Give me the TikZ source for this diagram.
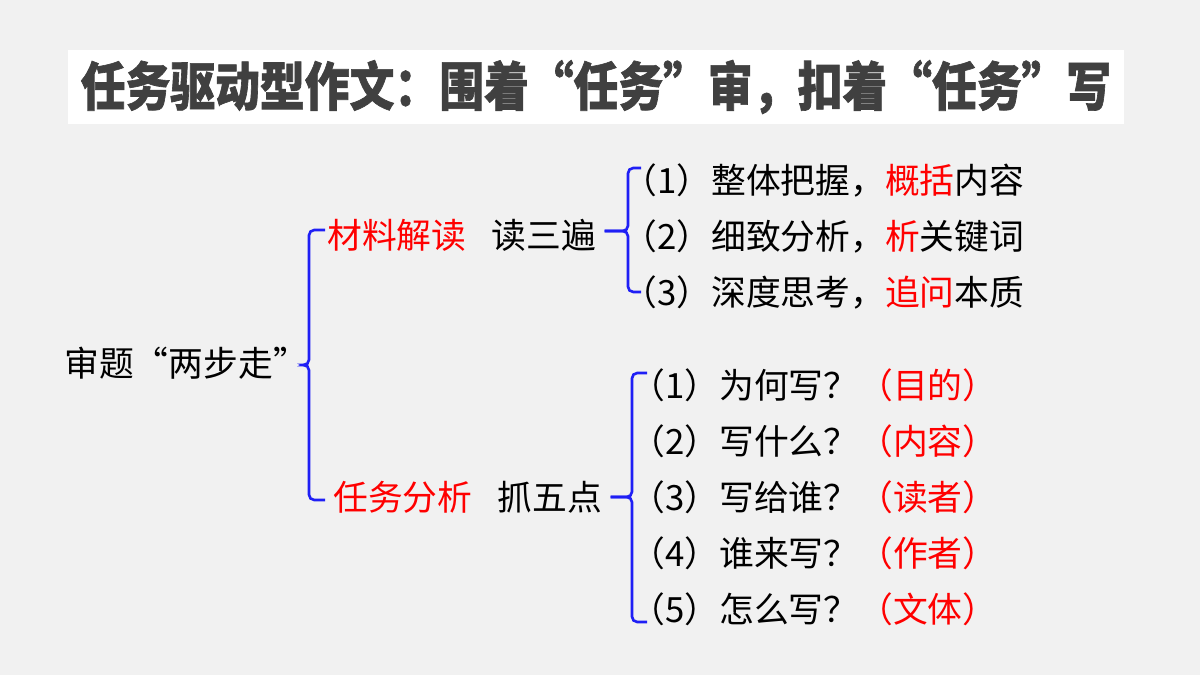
\documentclass[tikz,border=0pt]{standalone}
\usepackage{fontspec}
\newfontfamily\cjk{Noto Sans CJK SC}
\newfontfamily\cjktitle[FakeStretch=0.85, FakeBold=1.2]{Noto Sans CJK SC}
\usetikzlibrary{calc, positioning}
\definecolor{bgray}{HTML}{F1F1F1}
\definecolor{titlegray}{HTML}{404040}
\definecolor{bracketblue}{HTML}{1F1FF5}

\begin{document}
\begin{tikzpicture}[
  x=0.02cm, y=-0.02cm,
  txt/.style={font={\cjk\fontsize{19.8}{23}\selectfont}, inner sep=0pt, anchor=west},
  keyword/.style={txt, text=red},
  bracket/.style={draw=bracketblue, line width=1.5pt, rounded corners=3pt},
  titlebox/.style={fill=white, inner sep=0pt, minimum width=21.14cm, minimum height=1.5cm,
    text=titlegray, font={\cjktitle\bfseries\fontsize{30}{32}\selectfont}}
]

% background
\fill[bgray] (0,0) rectangle (1200,675);

% title
\node[titlebox] (title) at (596,87) {任务驱动型作文：围着“任务”审，扣着“任务”写};

% tree
\node[txt] (root) at (64,363) {审题“两步走”};
\node[keyword] (mat) at (327,235) {材料解读};
\node[txt, right=14pt of mat] (read) {读三遍};
\node[keyword] (task) at (333,497) {任务分析};
\node[txt, right=14pt of task] (five) {抓五点};

\node[txt] (r1) at (622,180) {（1）整体把握，\textcolor{red}{概括}内容};
\node[txt] (r2) at (622,236) {（2）细致分析，\textcolor{red}{析}关键词};
\node[txt] (r3) at (622,292) {（3）深度思考，\textcolor{red}{追问}本质};

\node[txt] (t1) at (630,385) {（1）为何写？\textcolor{red}{（目的）}};
\node[txt] (t2) at (630,441) {（2）写什么？\textcolor{red}{（内容）}};
\node[txt] (t3) at (630,497) {（3）写给谁？\textcolor{red}{（读者）}};
\node[txt] (t4) at (630,553) {（4）谁来写？\textcolor{red}{（作者）}};
\node[txt] (t5) at (630,609) {（5）怎么写？\textcolor{red}{（文体）}};

% brackets
\coordinate (c1) at (309,365);
\draw[bracket] ($(mat.west)+(-2,-5)$) -| (c1) -- (root.east |- c1);
\draw[bracket] ($(task.west)+(-8,3)$) -| (c1) -- (root.east |- c1);

\coordinate (c2) at (628,231);
\draw[bracket] ($(r1.west)+(19,-12)$) -| (c2) -- ($(read.east)+(8,-4)$);
\draw[bracket] ($(r3.west)+(19,0)$) -| (c2) -- ($(read.east)+(8,-4)$);

\coordinate (c3) at (632,497);
\draw[bracket] ($(t1.west)+(17,-12)$) -| (c3) -- ($(five.east)+(8,0)$);
\draw[bracket] ($(t5.west)+(17,13)$) -| (c3) -- ($(five.east)+(8,0)$);

\end{tikzpicture}
\end{document}
